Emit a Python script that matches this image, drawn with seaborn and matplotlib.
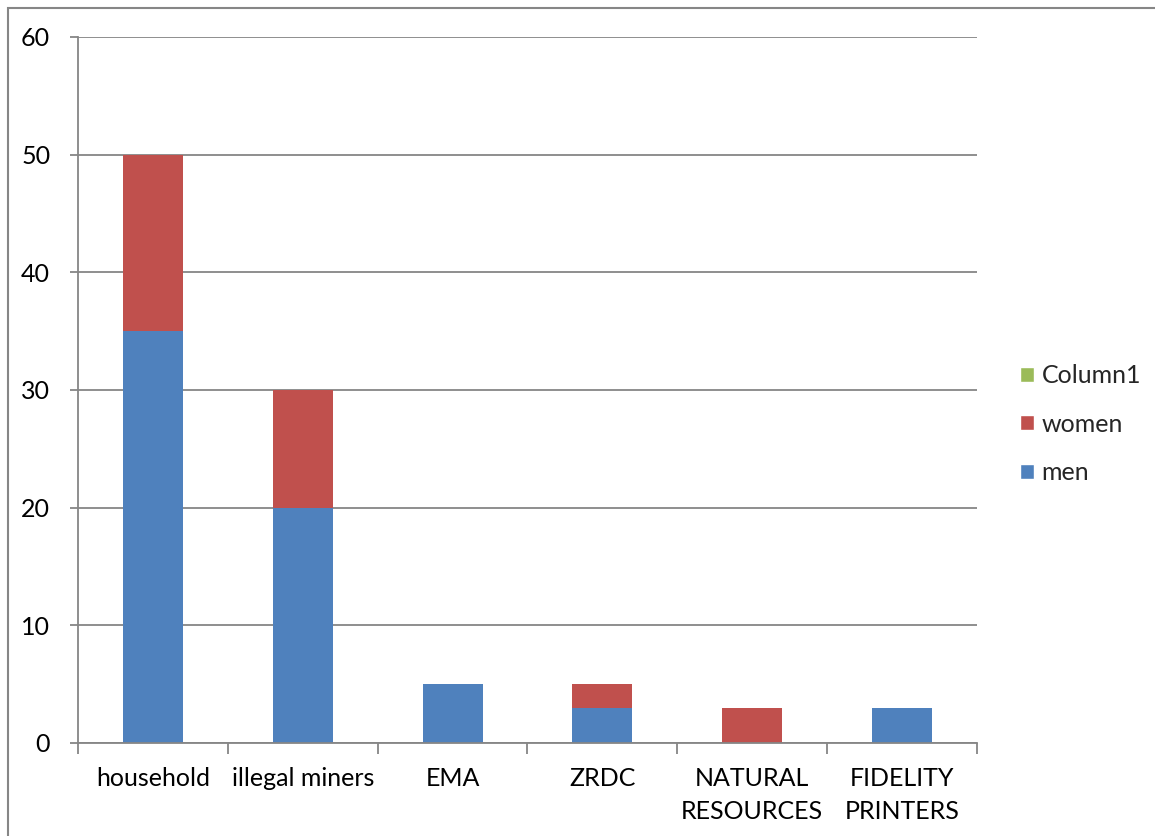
import matplotlib
matplotlib.use("Agg")
import matplotlib.pyplot as plt
import seaborn as sns
import pandas as pd
import numpy as np
from matplotlib.patches import Patch, Rectangle

categories = ["household", "illegal miners", "EMA", "ZRDC", "NATURAL\nRESOURCES", "FIDELITY\nPRINTERS"]
men = [35, 20, 5, 3, 0, 3]
women = [15, 10, 0, 2, 3, 0]
column1 = [0, 0, 0, 0, 0, 0]
yticks = [0, 10, 20, 30, 40, 50, 60]

c_men = "#4F81BD"
c_women = "#C0504D"
c_col1 = "#9BBB59"
grid_c = "#868686"

sns.set_theme(style="white")
plt.rcParams["font.family"] = ["Lato", "DejaVu Sans"]

FS = 18

fig = plt.figure(figsize=(11.55, 8.36), dpi=100)
ax = fig.add_axes([78/1155, 1-743/836, (977-78)/1155, (743-37)/836])

df = pd.DataFrame({"cat": categories, "men": men, "women": women, "col1": column1})
df["t_women"] = df["men"] + df["women"]
df["t_col1"] = df["t_women"] + df["col1"]

sns.barplot(data=df, x="cat", y="t_col1", color=c_col1, saturation=1, width=0.4, ax=ax, zorder=3)
sns.barplot(data=df, x="cat", y="t_women", color=c_women, saturation=1, width=0.4, ax=ax, zorder=3)
sns.barplot(data=df, x="cat", y="men", color=c_men, saturation=1, width=0.4, ax=ax, zorder=3)
for p in ax.patches:
    p.set_edgecolor("none")
    p.set_linewidth(0)

ax.set_xlim(-0.5, len(categories) - 0.5)
ax.set_ylim(0, 60)
ax.set_yticks(yticks)
ax.set_yticklabels([str(v) for v in yticks], fontsize=FS, color="black")
ax.set_xlabel("")
ax.set_ylabel("")
ax.set_xticks(np.arange(len(categories)))
ax.set_xticklabels(categories, fontsize=FS, color="black", linespacing=1.55)
ax.tick_params(axis="x", length=0, pad=17)
ax.tick_params(axis="y", length=6, width=1.3, color=grid_c, pad=14, direction="out", left=True)
ax.set_xticks(np.arange(-0.5, len(categories)), minor=True)
ax.tick_params(axis="x", which="minor", length=8, width=1.3, color=grid_c, direction="out", bottom=True)
ax.yaxis.grid(True, color=grid_c, linewidth=1.3, zorder=0)
ax.set_axisbelow(True)
for s in ["top", "right"]:
    ax.spines[s].set_visible(False)
for s in ["left", "bottom"]:
    ax.spines[s].set_color(grid_c)
    ax.spines[s].set_linewidth(1.3)
    ax.spines[s].set_zorder(4)

handles = [Patch(facecolor=c_col1, label="Column1"),
           Patch(facecolor=c_women, label="women"),
           Patch(facecolor=c_men, label="men")]
fig.legend(handles=handles, loc="center left", bbox_to_anchor=(1020/1155, 1-424/836),
           frameon=False, fontsize=FS, handlelength=0.56, handleheight=0.56,
           handletextpad=0.3, labelspacing=1.02, borderpad=0, borderaxespad=0)

fig.patches.append(Rectangle((8/1155, -0.01), 1.2, 1-8/836+0.01, transform=fig.transFigure,
                             fill=False, edgecolor=grid_c, linewidth=1.5))

fig.savefig("out.png", dpi=100)
